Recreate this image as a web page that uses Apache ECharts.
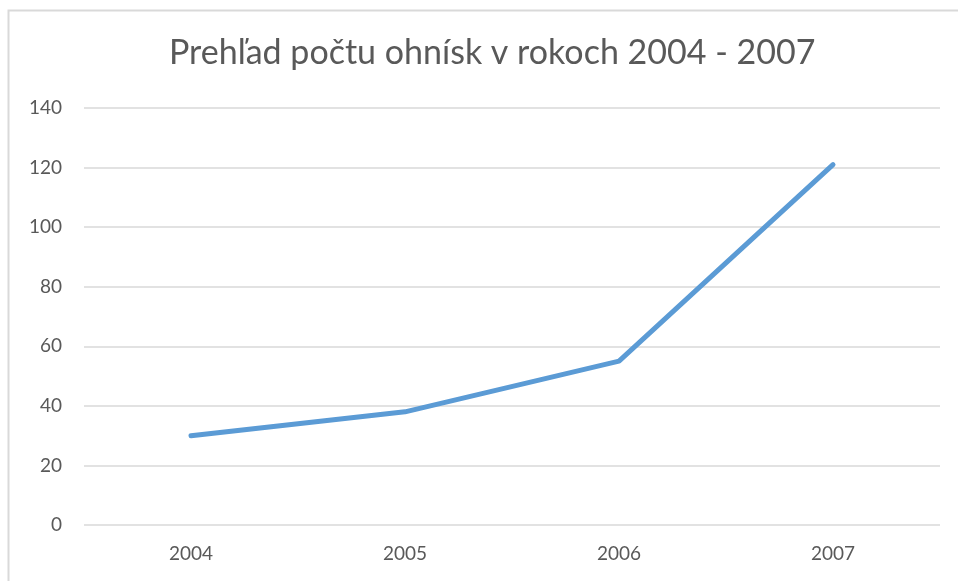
<!DOCTYPE html>
<html>
<head>
<meta charset="utf-8">
<style>
  html, body { margin: 0; padding: 0; background: #fff; }
  #chart-container { width: 958px; height: 581px; }
</style>
<script src="https://cdn.jsdelivr.net/npm/echarts@6/dist/echarts.min.js"></script>
</head>
<body>
<div id="chart-container"></div>
<script>
var years = ['2004', '2005', '2006', '2007'];
var ohniska = [30, 38, 55, 121];
var yTicks = [0, 20, 40, 60, 80, 100, 120, 140];

var dom = document.getElementById('chart-container');
var myChart = echarts.init(dom, null, { renderer: 'canvas' });

var option = {
  animation: false,
  title: {
    text: 'Prehľad počtu ohnísk v rokoch 2004 - 2007',
    left: 164,
    top: 31,
    textStyle: {
      fontFamily: 'Lato',
      fontSize: 34,
      fontWeight: 'normal',
      color: '#595959'
    }
  },
  graphic: [{
    type: 'rect',
    shape: { x: 8.5, y: 10.5, width: 1000, height: 700 },
    style: { fill: 'none', stroke: '#d9d9d9', lineWidth: 2 },
    silent: true
  }],
  grid: { left: 84, right: 18, top: 108, bottom: 56 },
  xAxis: {
    type: 'category',
    data: years,
    boundaryGap: true,
    axisLine: { show: false },
    axisTick: { show: false },
    axisLabel: {
      margin: 19,
      fontFamily: 'Lato',
      fontSize: 19,
      color: '#595959'
    }
  },
  yAxis: {
    type: 'value',
    min: yTicks[0],
    max: yTicks[yTicks.length - 1],
    interval: 20,
    axisLine: { show: false },
    axisTick: { show: false },
    splitLine: { lineStyle: { color: '#d9d9d9', width: 1.5 } },
    axisLabel: {
      margin: 22,
      fontFamily: 'Lato',
      fontSize: 19,
      color: '#595959'
    }
  },
  series: [{
    type: 'line',
    data: ohniska,
    symbol: 'none',
    lineStyle: { color: '#5b9bd5', width: 5, cap: 'round', join: 'round' }
  }]
};

myChart.setOption(option);
window.addEventListener('resize', myChart.resize);
</script>
</body>
</html>
